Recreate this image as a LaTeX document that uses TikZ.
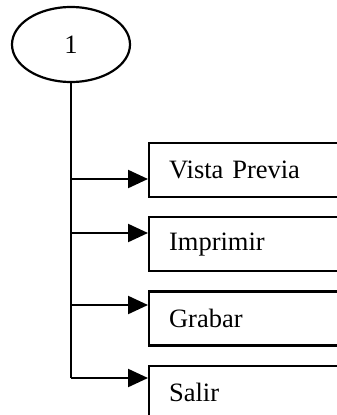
\documentclass[tikz,border=0pt]{standalone}
\usepackage{fontspec}
\setmainfont{Liberation Serif}
\usetikzlibrary{positioning,shapes.geometric,arrows.meta}

\begin{document}
\begin{tikzpicture}[x=1pt,y=-1pt,line width=2.2pt,node distance=18pt,
  opcion/.style={draw,rectangle,minimum height=54pt,text width=170pt,
    inner xsep=20pt,inner ysep=0pt,align=left,font=\fontsize{26.5}{30}\selectfont},
  flecha/.style={-{Triangle[length=20pt,width=18pt]}}]
  \useasboundingbox (0,0) rectangle (337,415);
  \node(uno) at (71,44.5) [draw,ellipse,minimum width=118pt,minimum height=75pt,
    inner sep=0pt,font=\fontsize{26.5}{30}\selectfont]{1};
  \node(vista) [opcion,anchor=north west] at (148,142) {Vista Previa};
  \node[below=of vista](imprimir) [opcion]{Imprimir};
  \node[below=of imprimir](grabar) [opcion]{Grabar};
  \node[below=of grabar](salir)    [opcion]{Salir};
  % puntos sobre el tronco
  \coordinate (r1) at (71,179);
  \coordinate (r2) at (71,233);
  \coordinate (r3) at (71,305);
  \coordinate (r4) at (71,378);
  \draw (uno.south) -- (r4);
  \draw[flecha] (r1) -- (r1 -| vista.west);
  \draw[flecha] (r2) -- (r2 -| imprimir.west);
  \draw[flecha] (r3) -- (r3 -| grabar.west);
  \draw[flecha] (r4) -- (r4 -| salir.west);
\end{tikzpicture}
\end{document}
